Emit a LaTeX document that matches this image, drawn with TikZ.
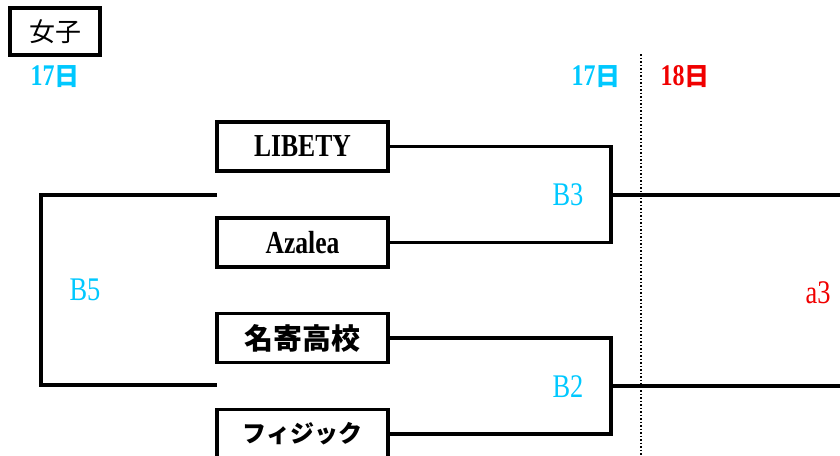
\documentclass[tikz,border=0pt]{standalone}
\usepackage{fontspec}
\setmainfont{Liberation Serif}[FakeStretch=0.8]
\newfontfamily\jp{Noto Sans CJK JP}
\definecolor{daycyan}{RGB}{0,200,255}
\definecolor{dayred}{RGB}{240,0,0}
\begin{document}
\begin{tikzpicture}[x=1pt, y=-1pt]
      \useasboundingbox (0,0) rectangle (840,455);
      \clip (0,0) rectangle (840,455);
      \tikzstyle{team}=[draw, line width=3.5pt, minimum width=171pt, minimum height=49pt,
        inner sep=0pt, font=\fontsize{32}{32}\selectfont\bfseries]
      \tikzstyle{bracket}=[line width=3.5pt]
      \tikzstyle{day}=[font=\fontsize{30}{30}\selectfont\bfseries]
      \tikzstyle{game}=[font=\fontsize{33}{33}\selectfont]

      % title and days
      \path (55,31.5) node[draw, line width=3.5pt, minimum width=90pt, minimum height=47pt,
        font=\fontsize{26}{26}\selectfont\jp] (title) {女子};
      \path (55,77) node[day, text=daycyan] (d17l) {17{\jp\bfseries\fontsize{25}{25}\selectfont 日}};
      \path (596,77) node[day, text=daycyan] (d17r) {17{\jp\bfseries\fontsize{25}{25}\selectfont 日}};
      \path (685,77) node[day, text=dayred] (d18) {18{\jp\bfseries\fontsize{25}{25}\selectfont 日}};

      \draw[line width=1.5pt, dotted] (641,54) coordinate (sepT) -- (641,455) coordinate (sepB);

      % teams
      \foreach \name/\y/\txt in {lib/146.5/LIBETY, aza/242.5/Azalea,
        nay/338/{\jp\bfseries\fontsize{29}{29}\selectfont 名寄高校},
        phy/434/{\jp\bfseries\fontsize{24}{24}\selectfont フィジック}}
      {
        \path (302.5,\y) node[team] (\name) {\txt};
      }

      % games
      \path (568,195) node[game, text=daycyan] (b3) {B3};
      \path (568,387) node[game, text=daycyan] (b2) {B2};
      \path (85,290) node[game, text=daycyan] (b5) {B5};
      \path (818,293) node[game, text=dayred] (a3) {a3};

      \coordinate (j3) at (611,195);
      \coordinate (j2) at (611,386);
      \coordinate (o3) at (845,195);
      \coordinate (o2) at (845,386);
      \coordinate (l3) at (217,195);
      \coordinate (l2) at (217,385);
      \coordinate (j5) at (41,290);

      \draw[bracket]
        (lib.east) -| (j3) |- (aza.east)
        (nay.east) -| (j2) |- (phy.east);
      \draw[bracket]
        (j3) -- (o3)
        (j2) -- (o2);
      \draw[bracket] (l3) -| (j5) |- (l2);
    \end{tikzpicture}
\end{document}
